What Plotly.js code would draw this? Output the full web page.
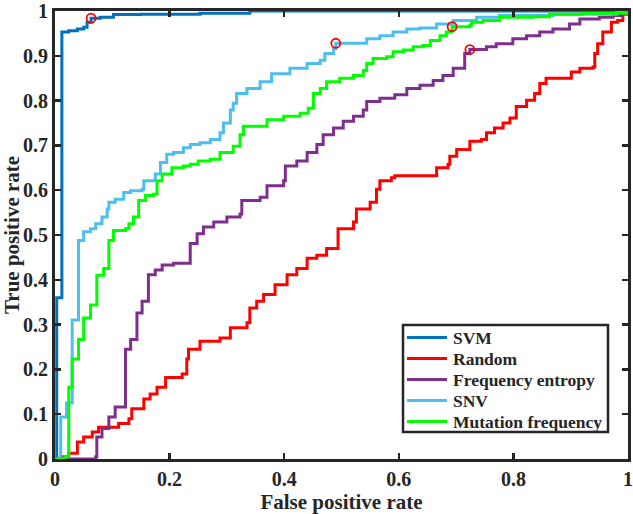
<!DOCTYPE html>
<html>
<head>
<meta charset="utf-8">
<script src="https://cdn.plot.ly/plotly-3.0.1.min.js"></script>
<style>html,body{margin:0;padding:0;background:#fff;}#chart{width:633px;height:514px;}</style>
</head>
<body>
<div id="chart"></div>
<script>
// ---- data ----
const seriesNames = ["SVM", "Random", "Frequency entropy", "SNV", "Mutation frequency"];
const seriesColors = ["#0072BD", "#FF0000", "#7E2F8E", "#4DBEEE", "#00FF00"];

const svmX = [0, 0.003, 0.003, 0.012, 0.012, 0.024, 0.039, 0.05, 0.056, 0.063, 0.079, 0.102, 0.149, 0.253, 0.34, 1];
const svmY = [0, 0, 0.36, 0.36, 0.953, 0.956, 0.96, 0.964, 0.975, 0.984, 0.986, 0.992, 0.993, 0.995, 1, 1];

const randomX = [0, 0.01, 0.024, 0.039, 0.05, 0.065, 0.076, 0.093, 0.111, 0.129,
  0.134, 0.155, 0.166, 0.178, 0.193, 0.222, 0.23, 0.233, 0.253, 0.288,
  0.306, 0.335, 0.34, 0.352, 0.364, 0.384, 0.405, 0.422, 0.44, 0.457,
  0.474, 0.494, 0.521, 0.526, 0.55, 0.561, 0.567, 0.587, 0.593, 0.663,
  0.666, 0.686, 0.689, 0.701, 0.724, 0.744, 0.753, 0.767, 0.782, 0.794,
  0.805, 0.823, 0.837, 0.846, 0.857, 0.892, 0.901, 0.916, 0.939, 0.942,
  0.947, 0.956, 0.971, 0.982, 0.991, 1];
const randomY = [0, 0.005, 0.013, 0.038, 0.049, 0.06, 0.071, 0.071, 0.079, 0.09,
  0.112, 0.134, 0.145, 0.16, 0.182, 0.19, 0.223, 0.245, 0.263, 0.27,
  0.293, 0.304, 0.337, 0.352, 0.367, 0.389, 0.411, 0.425, 0.448, 0.455,
  0.47, 0.514, 0.529, 0.558, 0.573, 0.602, 0.621, 0.628, 0.632, 0.632,
  0.65, 0.658, 0.676, 0.691, 0.709, 0.713, 0.728, 0.739, 0.75, 0.761,
  0.787, 0.801, 0.816, 0.838, 0.85, 0.85, 0.864, 0.872, 0.875, 0.905,
  0.927, 0.953, 0.975, 0.979, 0.993, 1];

const entropyX = [0, 0.071, 0.073, 0.082, 0.094, 0.105, 0.123, 0.123, 0.132, 0.143,
  0.152, 0.163, 0.163, 0.175, 0.187, 0.207, 0.236, 0.236, 0.248, 0.259,
  0.277, 0.3, 0.323, 0.326, 0.358, 0.37, 0.399, 0.402, 0.422, 0.44,
  0.457, 0.468, 0.486, 0.503, 0.521, 0.538, 0.544, 0.567, 0.593, 0.614,
  0.637, 0.66, 0.677, 0.695, 0.715, 0.724, 0.753, 0.77, 0.799, 0.823,
  0.846, 0.869, 0.898, 0.916, 0.95, 0.974, 0.988, 1];
const entropyY = [0, 0.005, 0.049, 0.068, 0.094, 0.116, 0.116, 0.245, 0.267, 0.326,
  0.352, 0.374, 0.411, 0.422, 0.433, 0.437, 0.437, 0.481, 0.503, 0.518,
  0.529, 0.54, 0.547, 0.577, 0.584, 0.61, 0.621, 0.654, 0.665, 0.684,
  0.702, 0.724, 0.739, 0.754, 0.765, 0.779, 0.798, 0.805, 0.813, 0.827,
  0.834, 0.845, 0.856, 0.872, 0.905, 0.914, 0.92, 0.927, 0.938, 0.945,
  0.953, 0.96, 0.971, 0.982, 0.986, 0.99, 0.997, 1];

const snvX = [0, 0.01, 0.01, 0.02, 0.02, 0.03, 0.03, 0.041, 0.041, 0.05,
  0.05, 0.062, 0.071, 0.082, 0.091, 0.094, 0.105, 0.12, 0.132, 0.152,
  0.155, 0.172, 0.175, 0.184, 0.195, 0.207, 0.224, 0.236, 0.253, 0.271,
  0.288, 0.294, 0.306, 0.311, 0.317, 0.335, 0.358, 0.378, 0.41, 0.44,
  0.463, 0.471, 0.486, 0.49, 0.532, 0.544, 0.567, 0.59, 0.614, 0.637,
  0.66, 0.666, 0.695, 0.736, 0.776, 0.869, 0.98, 1];
const snvY = [0, 0, 0.094, 0.094, 0.125, 0.125, 0.31, 0.31, 0.488, 0.488,
  0.507, 0.514, 0.525, 0.54, 0.558, 0.573, 0.58, 0.595, 0.599, 0.602,
  0.621, 0.621, 0.636, 0.662, 0.68, 0.684, 0.695, 0.702, 0.706, 0.713,
  0.728, 0.75, 0.779, 0.794, 0.816, 0.827, 0.842, 0.86, 0.872, 0.883,
  0.89, 0.905, 0.916, 0.928, 0.928, 0.938, 0.945, 0.953, 0.96, 0.962,
  0.962, 0.971, 0.979, 0.986, 0.99, 0.993, 0.997, 1];

const mutX = [0, 0.017, 0.024, 0.024, 0.03, 0.03, 0.041, 0.041, 0.05, 0.05,
  0.062, 0.062, 0.073, 0.073, 0.085, 0.085, 0.094, 0.094, 0.102, 0.123,
  0.129, 0.137, 0.146, 0.158, 0.172, 0.178, 0.187, 0.204, 0.224, 0.236,
  0.25, 0.271, 0.288, 0.311, 0.323, 0.329, 0.37, 0.399, 0.428, 0.442,
  0.451, 0.463, 0.474, 0.497, 0.521, 0.538, 0.544, 0.555, 0.579, 0.59,
  0.608, 0.625, 0.642, 0.655, 0.672, 0.683, 0.693, 0.724, 0.727, 0.747,
  0.776, 0.834, 0.863, 0.92, 1];
const mutY = [0, 0.005, 0.01, 0.16, 0.16, 0.223, 0.223, 0.267, 0.267, 0.315,
  0.315, 0.344, 0.344, 0.41, 0.41, 0.425, 0.425, 0.488, 0.51, 0.514,
  0.525, 0.54, 0.577, 0.588, 0.591, 0.621, 0.636, 0.65, 0.654, 0.658,
  0.665, 0.669, 0.684, 0.698, 0.724, 0.743, 0.757, 0.765, 0.772, 0.783,
  0.816, 0.827, 0.842, 0.85, 0.856, 0.867, 0.883, 0.894, 0.898, 0.909,
  0.913, 0.92, 0.923, 0.934, 0.945, 0.953, 0.965, 0.968, 0.975, 0.979,
  0.986, 0.987, 0.993, 0.995, 1];

// operating points marked with red circles
const pointX = [0.063, 0.49, 0.693, 0.724];
const pointY = [0.984, 0.928, 0.965, 0.914];

const xTicks = [0, 0.2, 0.4, 0.6, 0.8, 1];
const yTicks = [0, 0.1, 0.2, 0.3, 0.4, 0.5, 0.6, 0.7, 0.8, 0.9, 1];

// ---- page geometry ----
const W = 633, H = 514;
const M = {l: 55, r: 5, t: 11, b: 55};
const plotW = W - M.l - M.r, plotH = H - M.t - M.b;
const px2paperX = p => (p - M.l) / plotW;
const px2paperY = p => (H - M.b - p) / plotH;

// ---- traces ----
const xs = [svmX, randomX, entropyX, snvX, mutX];
const ys = [svmY, randomY, entropyY, snvY, mutY];
const traces = seriesNames.map((name, i) => ({
  type: "scatter", mode: "lines", name: name,
  x: xs[i], y: ys[i], showlegend: false,
  line: {color: seriesColors[i], width: 3, shape: "hv"}
}));
traces.push({
  type: "scatter", mode: "markers", showlegend: false,
  x: pointX, y: pointY, cliponaxis: false,
  marker: {symbol: "circle-open", size: 9, color: "#FF0000", line: {width: 1.8, color: "#FF0000"}}
});

const fontFam = "Liberation Serif, Times New Roman, serif";
const ink = "#262626";

// ---- legend box (drawn as shapes + annotations, matching the boxed MATLAB legend) ----
const legBox = {x0: 403, x1: 608, y0: 325, y1: 432};
const legRowH = 21, legFirst = 337.5;
const shapes = [{
  type: "rect", xref: "paper", yref: "paper", layer: "above",
  x0: px2paperX(legBox.x0), x1: px2paperX(legBox.x1),
  y0: px2paperY(legBox.y1), y1: px2paperY(legBox.y0),
  line: {color: ink, width: 2.5}, fillcolor: "#fff"
}];
const annotations = [];
seriesNames.forEach((name, i) => {
  const yc = legFirst + i * legRowH;
  shapes.push({
    type: "line", xref: "paper", yref: "paper", layer: "above",
    x0: px2paperX(407), x1: px2paperX(447),
    y0: px2paperY(yc), y1: px2paperY(yc),
    line: {color: seriesColors[i], width: 3}
  });
  annotations.push({
    xref: "paper", yref: "paper", x: px2paperX(451), y: px2paperY(yc),
    xanchor: "left", yanchor: "middle", showarrow: false,
    text: "<b>" + name + "</b>",
    font: {family: fontFam, size: 17.5, color: ink, weight: "bold"}
  });
});

const axisCommon = {
  range: [0, 1], showgrid: false, zeroline: false,
  showline: true, linewidth: 3, linecolor: ink, mirror: "ticks",
  ticks: "inside", ticklen: 6, tickwidth: 2.5, tickcolor: ink,
  ticklabeloverflow: "allow",
  tickfont: {family: fontFam, size: 20, color: ink, weight: "bold"}
};

const layout = {
  width: W, height: H,
  margin: M,
  paper_bgcolor: "#fff", plot_bgcolor: "#fff",
  showlegend: false,
  xaxis: Object.assign({}, axisCommon, {
    tickvals: xTicks, ticktext: xTicks.map(String),
    title: {text: "<b>False positive rate</b>", standoff: 6,
      font: {family: fontFam, size: 21, color: ink, weight: "bold"}}
  }),
  yaxis: Object.assign({}, axisCommon, {
    tickvals: yTicks, ticktext: yTicks.map(String),
    title: {text: "<b>True positive rate</b>", standoff: 6,
      font: {family: fontFam, size: 21, color: ink, weight: "bold"}}
  }),
  shapes: shapes,
  annotations: annotations
};

Plotly.newPlot("chart", traces, layout, {displayModeBar: false, staticPlot: true});
</script>
</body>
</html>
